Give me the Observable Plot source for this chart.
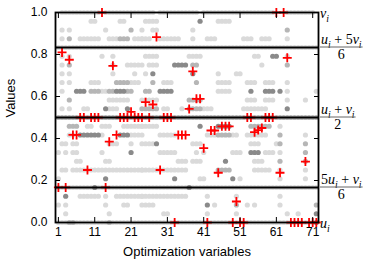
<!DOCTYPE html>
<html><head><meta charset="utf-8">
<script src="https://cdn.jsdelivr.net/npm/d3@7"></script>
<script src="https://cdn.jsdelivr.net/npm/@observablehq/plot@0.6"></script>
<style>body{margin:0;background:#fff} svg{display:block}</style>
</head><body><div id="chart"></div>
<script>
// ---- data ----
const xTicks = [1, 11, 21, 31, 41, 51, 61, 71];
const yTicks = [0, 0.2, 0.4, 0.6, 0.8, 1.0];
const boundLevels = [1/6, 1/2, 5/6];
// optimum value for each optimization variable (1..72), red crosses
const optimum = [0.167,0.81,0.167,0.775,0.417,0.417,0.5,0.5,0.25,0.5,
  0.5,0.5,1.0,0.167,0.385,0.746,0.417,0.5,0.5,0.5,
  0.527,0.5,0.5,0.5,0.573,0.5,0.562,0.883,0.25,0.5,
  0.5,0.5,0,0.417,0.417,0.417,0.541,0.72,0.589,0.589,
  0.354,0,0.438,0.438,0.237,0.458,0.458,0.458,0,0.1,
  0,0,0.5,0.5,0.43,0.44,0.45,0.5,0.5,0.5,
  1.0,0.237,1.0,0.784,0,0,0,0,0.29,0,
  0,0];
// gray samples: [firstVar, lastVar, level (in 24ths), shade 1 light / 2 mid / 3 dark]
const grayRuns = [
  [2,12,24,1],[14,27,24,1],[29,39,24,1],[41,60,24,1],[64,71,24,1],
  [1,72,0,1],[1,72,20,1],[1,72,12,2],[1,72,4,1],
  // 1-12
  [2,2,22,1],[4,4,22,1],[10,11,23,1],[2,2,21,1],[7,12,21,1],[4,4,21,2],
  [2,2,19,1],[4,4,19,1],[2,2,18,1],[4,4,18,2],[2,2,17,1],[4,4,17,1],
  [2,2,16,1],[4,4,16,1],[10,12,16,1],[2,2,15,1],[6,8,15,3],[10,12,15,2],
  [4,4,14,2],[2,2,13,1],[4,4,13,1],[4,6,11,2],[4,5,10,1],[7,12,10,3],
  [2,3,9,1],[5,6,9,1],[1,1,8,1],[3,3,8,1],[5,6,8,1],[6,7,7,1],
  [2,3,6,1],[5,12,6,1],[1,1,5,1],[3,3,3,3],[7,12,3,1],[11,11,4,3],
  [1,1,2,1],[3,3,2,1],[3,3,1,1],[4,5,0,2],[8,9,13,1],[9,10,11,1],
  // 13-24
  [14,14,22,1],[21,21,22,2],[24,24,22,1],[15,17,21,1],[18,20,21,2],[22,24,21,1],
  [13,13,19,1],[16,16,19,1],[16,16,18,1],[20,24,18,1],[16,16,17,1],[22,22,17,1],
  [17,20,16,2],[21,23,16,1],[13,14,15,1],[15,16,15,2],[17,19,15,3],[20,21,15,2],
  [15,20,14,1],[14,14,13,3],[15,17,13,1],[20,20,13,3],[13,15,11,1],[19,24,11,1],
  [13,13,10,1],[18,20,10,3],[21,24,10,1],[15,15,9,1],[21,21,9,1],[13,13,8,1],
  [21,21,8,3],[14,15,7,1],[13,24,6,1],[14,14,5,3],[14,14,3,1],[17,24,3,1],
  [14,14,2,1],[15,15,1,1],[15,15,0,2],[18,19,23,1],[16,17,9,1],[19,20,2,1],
  // 25-36
  [25,27,23,1],[28,28,23,1],[27,28,22,1],[24,26,21,1],[29,31,21,1],[25,28,19,1],
  [26,28,18,1],[33,36,18,3],[25,25,17,1],[27,27,17,3],[27,27,16,2],[30,32,16,1],
  [29,32,15,3],[25,26,15,2],[24,28,14,1],[24,28,13,2],[35,35,13,1],[24,28,11,1],
  [29,33,10,1],[24,27,9,1],[28,28,9,3],[29,33,8,1],[24,36,6,1],[33,33,5,3],
  [24,36,3,1],[24,27,2,1],[32,34,21,1],[30,31,13,1],[34,36,7,1],[30,31,1,1],
  // 37-48
  [40,40,23,3],[45,48,23,1],[38,38,22,1],[38,38,21,1],[37,40,19,1],[38,39,18,2],
  [38,38,17,3],[45,45,17,1],[39,39,16,2],[45,48,16,1],[45,48,15,1],[37,40,14,2],
  [37,40,13,2],[40,40,11,3],[45,48,11,3],[42,44,10,1],[45,48,10,2],[38,40,9,1],
  [39,39,8,1],[41,41,8,1],[38,40,7,1],[47,47,7,3],[45,48,6,2],[40,41,5,1],
  [37,37,4,3],[42,42,3,1],[42,42,2,3],[44,44,2,1],[42,42,1,1],[42,44,21,1],[41,43,13,1],
  // 49-60
  [52,54,21,1],[57,59,21,1],[55,56,19,1],[60,60,19,3],[57,57,18,1],[53,55,16,1],
  [58,60,16,1],[54,54,15,3],[58,60,15,3],[53,55,14,1],[58,60,14,1],[52,58,13,1],
  [54,59,11,2],[53,58,10,1],[54,56,9,1],[49,51,8,1],[54,56,8,3],[58,60,8,1],
  [55,57,7,1],[55,59,6,1],[49,49,5,3],[51,51,5,1],[50,50,3,1],[50,50,2,2],
  [53,53,2,1],[55,55,2,1],[50,50,1,1],[50,51,17,1],[49,50,10,1],
  // 61-72
  [64,64,22,2],[64,64,21,1],[61,61,19,3],[64,64,19,1],[64,64,18,2],[64,64,16,1],
  [62,62,15,3],[64,64,15,1],[72,72,15,1],[64,64,14,1],[69,69,14,1],[64,64,13,3],
  [62,62,11,1],[62,62,10,2],[69,69,10,1],[61,61,9,1],[62,62,9,2],[69,69,9,2],
  [62,62,8,1],[69,69,8,2],[62,62,7,2],[69,69,7,2],[62,62,6,1],[69,69,6,1],
  [62,62,5,1],[69,69,5,1],[62,62,3,1],[62,62,2,1],[72,72,2,2],[64,64,1,1],
  [67,67,1,1],[72,72,1,3],[72,72,0,3]
];
const shadeColors = ["#dadada", "#b6b6b6", "#8a8a8a"];

// ---- build tables ----
const grayPoints = [];
for (const [a, b, lev, s] of grayRuns) for (let v = a; v <= b; v++) grayPoints.push({x: v, y: lev / 24, shade: s});
grayPoints.sort((p, q) => p.shade - q.shade);
const optPoints = optimum.map((y, i) => ({x: i + 1, y}));

const W = 374, H = 262, mL = 55, mR = 56, mT = 12, mB = 40;
const font = "'Liberation Sans', Arial, sans-serif";

const chart = Plot.plot({
  width: W, height: H, marginLeft: mL, marginRight: mR, marginTop: mT, marginBottom: mB,
  style: {fontFamily: font, fontSize: "12px", color: "black", background: "white"},
  x: {domain: [0.2, 72.6]},
  y: {domain: [0, 1]},
  color: {type: "identity"},
  marks: [
    Plot.dot(grayPoints, {x: "x", y: "y", r: 2.6, fill: d => shadeColors[d.shade - 1], stroke: null}),
    Plot.dot(optPoints, {x: "x", y: "y", symbol: "plus", r: 3, stroke: "red", strokeWidth: 1.8}),
    Plot.ruleY(boundLevels, {stroke: "black", strokeWidth: 2}),
    Plot.frame({stroke: "black", strokeWidth: 1.8}),
    Plot.axisX({ticks: xTicks, tickSize: -5, tickPadding: 10, label: null, fontSize: 12}),
    Plot.axisX({anchor: "top", ticks: xTicks, tickSize: -5, tickFormat: () => "", label: null}),
    Plot.axisY({ticks: yTicks, tickSize: -5, tickPadding: 13, tickFormat: d3.format(".1f"), label: null, fontSize: 12}),
    Plot.axisY({anchor: "right", ticks: yTicks, tickSize: -5, tickFormat: () => "", label: null}),
    Plot.text(["Values"], {frameAnchor: "left", dx: -45, rotate: -90, fontSize: 13}),
    Plot.text(["Optimization variables"], {frameAnchor: "bottom", dy: 33, fontSize: 13})
  ]
});
document.getElementById("chart").appendChild(chart);

// ---- math labels on the right, positioned with the plot's y scale ----
const ys = chart.scale("y");
const svg = d3.select(chart);
const g = svg.append("g").attr("font-family", "'Liberation Serif', 'DejaVu Serif', serif").attr("fill", "black");
const xL = W - mR + 2;
const SZ = 14;
function mathText(x, y, parts, anchor) {
  const t = g.append("text").attr("x", x).attr("y", y).attr("font-size", SZ).attr("text-anchor", anchor || "start");
  let sub = false;
  for (const [s, k] of parts) {
    const ts = t.append("tspan").text(s);
    if (k === "s") {
      ts.attr("font-style", "italic").attr("font-size", SZ * 0.7);
      if (!sub) ts.attr("dy", SZ * 0.28);
      sub = true;
    } else {
      if (sub) ts.attr("dy", -SZ * 0.28);
      sub = false;
      if (k === "i") ts.attr("font-style", "italic");
    }
  }
  return t;
}
const sp = "\u2005";
const U = [["u", "i"], ["i", "s"]], V = [["v", "i"], ["i", "s"]];
const fracs = [
  {level: 5/6, num: [...U, [sp + "+" + sp + "5", "n"], ...V], den: "6"},
  {level: 1/2, num: [...U, [sp + "+" + sp, "n"], ...V], den: "2"},
  {level: 1/6, num: [["5", "n"], ...U, [sp + "+" + sp, "n"], ...V], den: "6"}
];
mathText(xL, ys.apply(1) + 6, V);
mathText(xL, ys.apply(0) + 6, U);
for (const f of fracs) {
  const y0 = ys.apply(f.level);
  const t = mathText(xL + 1, y0 - 3, f.num);
  const w = t.node().getComputedTextLength();
  g.append("line").attr("x1", xL).attr("x2", xL + w + 2).attr("y1", y0).attr("y2", y0)
    .attr("stroke", "#666").attr("stroke-width", 1);
  mathText(xL + 1 + w / 2, y0 + 12, [[f.den, "n"]], "middle");
}
</script></body></html>
